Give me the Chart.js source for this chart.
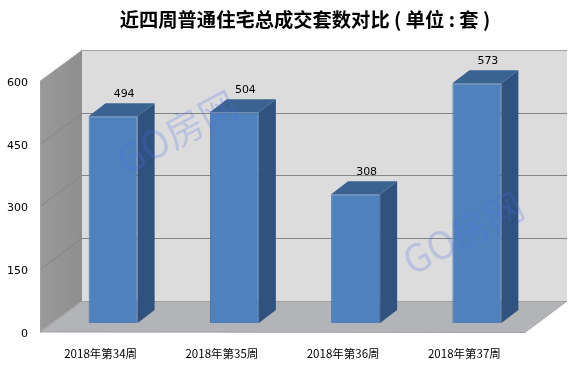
<!DOCTYPE html>
<html>
<head>
<meta charset="utf-8">
<style>
  html, body { margin: 0; padding: 0; background: #fff; }
  canvas { display: block; }
</style>
<script src="https://cdn.jsdelivr.net/npm/chart.js@4/dist/chart.umd.min.js"></script>
</head>
<body>
<canvas id="chart-weeks" width="583" height="367"></canvas>
<script>
const categories = ['2018年第34周', '2018年第35周', '2018年第36周', '2018年第37周'];
const values = [494, 504, 308, 573];
const yTicks = [0, 150, 300, 450, 600];
const titleText = '近四周普通住宅总成交套数对比 ( 单位 : 套 )';
const watermarkText = 'GO房网';

// profundidad de la caja y de las barras
const boxDepth = { x: 42, y: 31 };
const barShift = { x: 12.5, y: 9 };
const barDepth = { x: 17, y: 13 };

function poly(ctx, pts, fill) {
  ctx.beginPath();
  pts.forEach((p, i) => i ? ctx.lineTo(p[0], p[1]) : ctx.moveTo(p[0], p[1]));
  ctx.closePath();
  ctx.fillStyle = fill;
  ctx.fill();
}

// ---------- PAREDES, SUELO Y LINEAS DE LA CUADRICULA
const boxPlugin = {
  id: 'box3d',
  afterLayout(chart) {
    // el titulo va centrado sobre la caja completa, no sobre el area sin margen
    chart.titleBlock.right = 610;
  },
  beforeDatasetsDraw(chart) {
    const { ctx, chartArea: a, scales: { y } } = chart;
    const dx = boxDepth.x, dy = boxDepth.y;
    ctx.save();
    poly(ctx, [[a.left + dx, a.top - dy], [a.right + dx, a.top - dy], [a.right + dx, a.bottom - dy], [a.left + dx, a.bottom - dy]], '#dcdcdc');
    const sideFill = ctx.createLinearGradient(a.left, 0, a.left + dx, 0);
    sideFill.addColorStop(0, '#9a9a9a');
    sideFill.addColorStop(1, '#8e8e8e');
    poly(ctx, [[a.left, a.bottom], [a.left + dx, a.bottom - dy], [a.left + dx, a.top - dy], [a.left, a.top]], sideFill);
    poly(ctx, [[a.left, a.bottom], [a.right, a.bottom], [a.right + dx, a.bottom - dy], [a.left + dx, a.bottom - dy]], '#b2b4b8');

    ctx.lineWidth = 1;
    yTicks.forEach(t => {
      const py = Math.round(y.getPixelForValue(t)) + 0.5;
      const edge = t === 0 || t === 600;
      ctx.strokeStyle = edge ? '#a0a0a0' : '#858585';
      ctx.beginPath();
      ctx.moveTo(a.left, py);
      ctx.lineTo(a.left + dx, py - dy);
      ctx.lineTo(a.right + dx, py - dy);
      ctx.stroke();
    });
    ctx.strokeStyle = '#a0a0a0';
    ctx.beginPath();
    ctx.moveTo(a.left + 0.5, a.top);
    ctx.lineTo(a.left + 0.5, a.bottom);
    ctx.lineTo(a.right, a.bottom + 0.5);
    ctx.lineTo(a.right + dx, a.bottom - dy);
    ctx.stroke();
    ctx.restore();

    // las barras se apoyan dentro de la caja
    ctx.save();
    ctx.translate(barShift.x, -barShift.y);
  },
  afterDatasetsDraw(chart) {
    const { ctx } = chart;
    ctx.restore();
    const bars = chart.getDatasetMeta(0).data;
    ctx.save();
    bars.forEach((bar, i) => {
      const left = bar.x - bar.width / 2 + barShift.x;
      const right = left + bar.width;
      const top = bar.y - barShift.y;
      const bottom = bar.base - barShift.y;
      poly(ctx, [[right, bottom], [right + barDepth.x, bottom - barDepth.y], [right + barDepth.x, top - barDepth.y], [right, top]], '#2f527f');
      poly(ctx, [[left, top], [right, top], [right + barDepth.x, top - barDepth.y], [left + barDepth.x, top - barDepth.y]], '#3a6391');

      ctx.fillStyle = '#000';
      ctx.font = '11px "DejaVu Sans"';
      ctx.textAlign = 'center';
      ctx.textBaseline = 'middle';
      ctx.fillText(values[i], bar.x + barShift.x + barDepth.x / 2 + 2.5, top - barDepth.y - 9);
    });
    ctx.restore();
  },
  afterDraw(chart) {
    const { ctx } = chart;
    [[177, 132], [463, 233]].forEach(p => {
      ctx.save();
      ctx.translate(p[0], p[1]);
      ctx.rotate(-28 * Math.PI / 180);
      ctx.font = '38px "Noto Sans CJK SC"';
      ctx.textAlign = 'center';
      ctx.textBaseline = 'middle';
      ctx.fillStyle = 'rgba(80, 110, 235, 0.24)';
      ctx.fillText(watermarkText, 0, 0);
      ctx.restore();
    });
  }
};

new Chart(document.getElementById('chart-weeks').getContext('2d'), {
  type: 'bar',
  data: {
    labels: categories,
    datasets: [{
      data: values,
      backgroundColor: '#4f81bd',
      borderColor: '#3f6da6',
      borderWidth: 1,
      categoryPercentage: 1,
      barPercentage: 0.404
    }]
  },
  options: {
    responsive: false,
    animation: false,
    layout: { padding: { right: 58 } },
    plugins: {
      legend: { display: false },
      tooltip: { enabled: false },
      title: {
        display: true,
        text: titleText,
        color: '#000',
        font: { family: '"Noto Sans CJK SC"', size: 19.3, weight: 'bold', lineHeight: 1.2 },
        padding: { top: 8, bottom: 49.8 }
      }
    },
    scales: {
      x: {
        grid: { display: false },
        border: { display: false },
        ticks: { color: '#000', padding: 7, maxRotation: 0, font: { family: '"Noto Sans CJK SC"', size: 11.5 } },
        afterFit(scale) { scale.height = 35; }
      },
      y: {
        min: 0,
        max: 600,
        grid: { display: false },
        border: { display: false },
        ticks: {
          stepSize: 150,
          color: '#000',
          padding: 4,
          labelOffset: 2,
          font: { family: '"DejaVu Sans"', size: 11 }
        },
        afterFit(scale) { scale.width = 40; }
      }
    }
  },
  plugins: [boxPlugin]
});
</script>
</body>
</html>
